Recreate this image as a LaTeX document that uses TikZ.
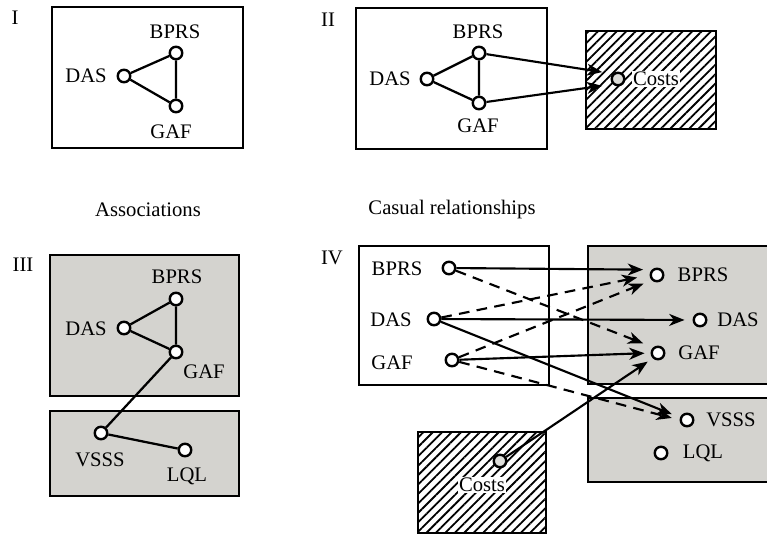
\documentclass[tikz,border=0pt]{standalone}
\usepackage{fontspec}
\setmainfont{Liberation Serif}
\usetikzlibrary{arrows.meta,patterns.meta}
\definecolor{panelgray}{RGB}{212,211,207}
\definecolor{costgray}{RGB}{221,221,217}
\begin{document}
\begin{tikzpicture}[x=0.75pt,y=-0.75pt,
  font=\fontsize{15.5}{18}\selectfont,
  box/.style={draw, line width=2.2pt},
  graybox/.style={box, fill=panelgray},
  hatchbox/.style={box, fill=white,
    postaction={pattern={Lines[angle=45,distance=5pt,line width=1.35pt]}}},
  var/.style={circle, draw, line width=1.8pt, fill=white,
    minimum size=9.4pt, inner sep=0pt},
  costvar/.style={var, fill=costgray},
  lbl/.style={inner sep=1pt},
  costlbl/.style={fill=white, inner sep=0.6pt},
  link/.style={line width=1.7pt},
  cause/.style={line width=1.6pt,
    -{Stealth[length=11.5pt,width=9pt,inset=3.5pt]}},
  dcause/.style={cause, dash pattern=on 8pt off 5.5pt}]
\useasboundingbox (0,0) rectangle (767,535);
\clip (0,0) rectangle (767,535);

% ---------- I: associations among three variables ----------
\node[lbl] (t1) at (15,18) {I};
\draw[box] (52,7) rectangle (243,148);
\node[var] (a1) at (124,76) {};
\node[var] (b1) at (176,53) {};
\node[var] (g1) at (176,106) {};
\node[lbl] at (86,76) {DAS};
\node[lbl] at (175,32) {BPRS};
\node[lbl] at (171,132) {GAF};
\draw[link] (a1) -- (b1) -- (g1) -- (a1);

% ---------- II: effects on costs ----------
\node[lbl] (t2) at (328,20) {II};
\draw[box] (356,8) rectangle (547,149);
\draw[hatchbox] (586,31) rectangle (716,129);
\node[var] (a2) at (427,79) {};
\node[var] (b2) at (479,53) {};
\node[var] (g2) at (479,103) {};
\node[lbl] at (390,79) {DAS};
\node[lbl] at (478,32) {BPRS};
\node[lbl] at (478,126) {GAF};
\node[costvar] (c2) at (618,79) {};
\node[costlbl] at (656,79) {Costs};
\draw[link] (a2) -- (b2) -- (g2) -- (a2);
\draw[cause, shorten >=8pt] (b2) -- (c2.north west);
\draw[cause, shorten >=8pt] (g2) -- (c2.south west);

% ---------- captions ----------
\node[lbl] at (148,210) {Associations};
\node[lbl] at (452,210) {Casual relationships};

% ---------- III: two clusters ----------
\node[lbl] (t3) at (23,265) {III};
\draw[graybox] (50,255) rectangle (239,396);
\draw[graybox] (50,411) rectangle (239,496);
\node[var] (b3) at (176,299) {};
\node[var] (a3) at (124,328) {};
\node[var] (g3) at (176,352) {};
\node[var] (v3) at (101,433) {};
\node[var] (l3) at (185,450) {};
\node[lbl] at (177,277) {BPRS};
\node[lbl] at (86,329) {DAS};
\node[lbl] at (204,372) {GAF};
\node[lbl] at (100,460) {VSSS};
\node[lbl] at (187,476) {LQL};
\draw[link] (a3) -- (b3) -- (g3) -- (a3);
\draw[link] (g3) -- (v3) -- (l3);

% ---------- IV: cross-lagged effects ----------
\node[lbl] (t4) at (332,258) {IV};
\draw[box] (359,246) rectangle (549,385);
\draw[graybox] (588,246) rectangle (790,384);
\draw[graybox] (588,398) rectangle (790,482);
\draw[hatchbox] (418,432) rectangle (546,533);

\node[var] (bL) at (449,268) {};
\node[var] (aL) at (434,319) {};
\node[var] (gL) at (452,360) {};
\node[lbl] at (397,269) {BPRS};
\node[lbl] at (391,320) {DAS};
\node[lbl] at (392,363) {GAF};

\node[var] (bR) at (657,275) {};
\node[var] (aR) at (700,320) {};
\node[var] (gR) at (658,353) {};
\node[var] (vR) at (687,420) {};
\node[var] (lR) at (661,453) {};
\node[lbl] at (703,275) {BPRS};
\node[lbl] at (738,320) {DAS};
\node[lbl] at (699,353) {GAF};
\node[lbl] at (731,420) {VSSS};
\node[lbl] at (703,453) {LQL};

\node[costvar] (cC) at (500,461) {};
\node[costlbl] at (482,485) {Costs};

\draw[cause, shorten >=6.5pt] (bL) -- (bR.north west);
\draw[dcause, shorten >=9.5pt] (aL) -- (bR.west);
\draw[dcause, shorten >=6.5pt] (gL) -- (bR.south west);
\draw[cause, shorten >=6pt] (aL) -- (aR.west);
\draw[cause, shorten >=6.5pt] (aL) -- (vR.160);
\draw[dcause, shorten >=8pt] (bL) -- (gR.130);
\draw[cause, shorten >=4.5pt] (gL) -- (gR.west);
\draw[dcause, shorten >=6pt] (gL) -- (vR.west);
\draw[cause, shorten >=4.5pt] (cC) -- (gR.south west);
\end{tikzpicture}
\end{document}
